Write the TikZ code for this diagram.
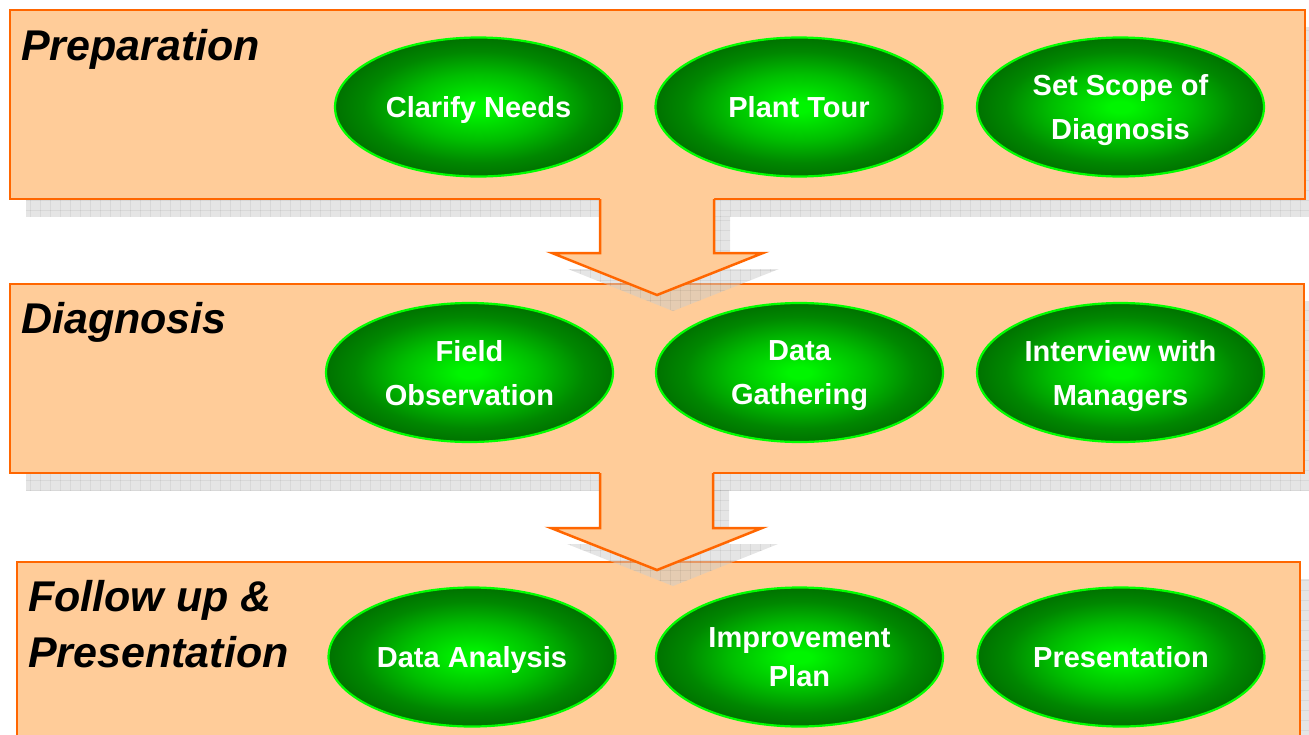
\documentclass[tikz,border=0pt]{standalone}
\usepackage{fontspec}
\setmainfont{Liberation Sans}
\usetikzlibrary{shapes.geometric}
\definecolor{peach}{HTML}{FFCC99}
\definecolor{orng}{HTML}{FF6600}
\definecolor{gin}{RGB}{0,245,0}
\definecolor{ga}{RGB}{0,190,0}
\definecolor{gmid}{RGB}{0,135,0}
\definecolor{gout}{RGB}{0,110,0}
\definecolor{grn}{HTML}{00FF00}
\pgfdeclareradialshading{greenball}{\pgfpoint{0bp}{0bp}}{color(0bp)=(gin); color(2bp)=(gin); color(12bp)=(ga); color(20bp)=(gmid); color(26bp)=(gout); color(50bp)=(gout)}
\newcommand\nodepth[1]{\raisebox{0pt}[\height][0pt]{#1}}
\newcommand\shadowgrid[1]{%
  \begin{scope}
    \clip #1;
    \fill[black!20,opacity=0.5] (0,0) rectangle (1340,780);
    \foreach \gx in {0,10,...,1340}{\draw[black,opacity=0.06,line width=0.8pt] (\gx,0) -- (\gx,780);}
    \foreach \gy in {0,10,...,780}{\draw[black,opacity=0.06,line width=0.8pt] (0,\gy) -- (1340,\gy);}
  \end{scope}}
\tikzset{
  band/.style={draw=orng, fill=peach, line width=2.5pt},
  arrowfill/.style={fill=peach},
  arrowline/.style={draw=orng, line width=2.5pt, line join=miter},
  oval/.style={ellipse, shading=greenball, draw=grn, line width=2.2pt,
    minimum width=287pt, minimum height=139pt, inner sep=0pt, text=white,
    font=\fontsize{29}{44}\selectfont\bfseries, align=center},
  title/.style={anchor=base west, inner sep=0pt,
    font=\fontsize{43}{55}\selectfont\bfseries\itshape, text=black},
}
\begin{document}
\begin{tikzpicture}[x=1pt,y=-1pt]
\useasboundingbox (0,0) rectangle (1309,734);
\clip (0,0) rectangle (1309,734);
% band 1
\shadowgrid{(26,27) rectangle (1321,216)}
\draw[band] (10,10) rectangle (1305,199);
% band 2
\shadowgrid{(26,301) rectangle (1320,490)}
\draw[band] (10,284) rectangle (1304,473);
% arrow 1
\shadowgrid{(616,216) -- (616,269) -- (568,269) -- (673,311) -- (779,269) -- (730,269) -- (730,216) -- cycle}
\coordinate (a1l) at (600,199);
\coordinate (a1r) at (714,199);
\coordinate (a1tip) at (657,295);
\fill[arrowfill] (600,196) -- (600,253) -- (552,253) -- (a1tip) -- (763,253) -- (714,253) -- (714,196) -- cycle;
\draw[arrowline] (a1l) -- (600,253) -- (552,253) -- (a1tip) -- (763,253) -- (714,253) -- (a1r);
% band 3
\shadowgrid{(33,579) rectangle (1316,769)}
\draw[band] (17,562) rectangle (1300,752);
% arrow 2
\shadowgrid{(616,490) -- (616,544) -- (567,544) -- (673,586) -- (778,544) -- (729,544) -- (729,490) -- cycle}
\coordinate (a2l) at (600,473);
\coordinate (a2r) at (713,473);
\coordinate (a2tip) at (657,570);
\fill[arrowfill] (600,470) -- (600,528) -- (551,528) -- (a2tip) -- (762,528) -- (713,528) -- (713,470) -- cycle;
\draw[arrowline] (a2l) -- (600,528) -- (551,528) -- (a2tip) -- (762,528) -- (713,528) -- (a2r);
% titles
\node[title] (t1) at (21,60) {Preparation};
\node[title] (t2) at (21,333) {Diagnosis};
\node[title] (t3a) at (28,611) {Follow up \&};
\node[title] (t3b) at (28,667) {Presentation};
% ellipses row 1
\node[oval] (e11) at (478.5,107) {\nodepth{Clarify Needs}};
\node[oval] (e12) at (799,107) {\nodepth{Plant Tour}};
\node[oval] (e13) at (1120.5,107) {Set Scope of\\\nodepth{Diagnosis}};
% row 2
\node[oval] (e21) at (469.5,372.5) {Field\\\nodepth{Observation}};
\node[oval] (e22) at (799.5,372.5) {Data\\\nodepth{Gathering}};
\node[oval] (e23) at (1120.5,372.5) {Interview with\\\nodepth{Managers}};
% row 3
\node[oval] (e31) at (472,657) {\nodepth{Data Analysis}};
\node[oval, font=\fontsize{29}{39}\selectfont\bfseries] (e32) at (799.5,657) {Improvement\\\nodepth{Plan}};
\node[oval] (e33) at (1121,657) {\nodepth{Presentation}};
\end{tikzpicture}
\end{document}
